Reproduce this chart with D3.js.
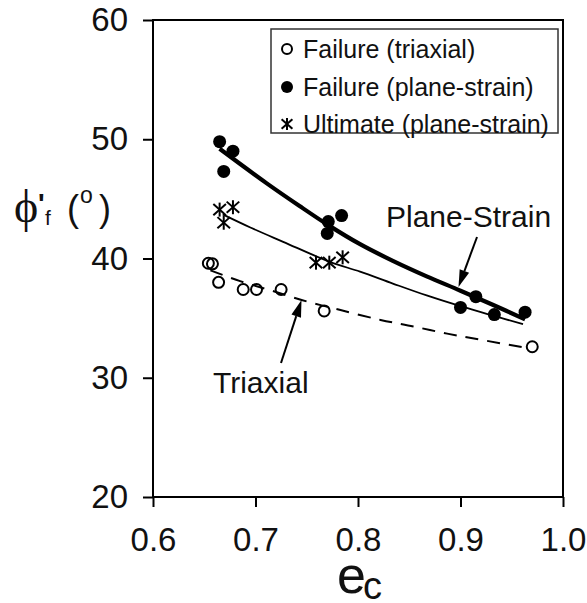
<!DOCTYPE html>
<html>
<head>
<meta charset="utf-8">
<script src="https://cdn.jsdelivr.net/npm/d3@7"></script>
<style>
  body { margin: 0; background: #fff; }
  svg { display: block; font-family: "Liberation Sans", Arial, sans-serif; }
</style>
</head>
<body>
<svg id="chart" width="587" height="603"></svg>
<script>
// failure points, triaxial tests (open circles)
var triaxE   = [0.654, 0.658, 0.664, 0.688, 0.701, 0.725, 0.767, 0.970];
var triaxPhi = [39.6, 39.55, 38.0, 37.4, 37.4, 37.4, 35.6, 32.6];

// failure points, plane-strain tests (filled dots)
var planeE   = [0.665, 0.678, 0.669, 0.784, 0.771, 0.770, 0.915, 0.900, 0.933, 0.963];
var planePhi = [49.8, 49.0, 47.3, 43.6, 43.1, 42.1, 36.8, 35.9, 35.3, 35.5];

// ultimate points, plane-strain (asterisks)
var ultE   = [0.665, 0.678, 0.669, 0.759, 0.772, 0.785];
var ultPhi = [44.1, 44.3, 43.0, 39.65, 39.65, 40.1];

// fitted curves
var fitPlaneE   = [0.665, 0.711, 0.743, 0.771, 0.802, 0.834, 0.867, 0.900, 0.932, 0.963];
var fitPlanePhi = [49.2, 46.3, 44.4, 42.8, 41.2, 39.8, 38.5, 37.3, 36.1, 34.9];
var fitUltE     = [0.668, 0.695, 0.727, 0.773, 0.802, 0.834, 0.867, 0.900, 0.932, 0.961];
var fitUltPhi   = [43.7, 42.6, 41.4, 39.7, 38.9, 37.9, 36.9, 36.0, 35.2, 34.5];
var fitTriaxE   = [0.656, 0.685, 0.714, 0.750, 0.782, 0.822, 0.854, 0.887, 0.919, 0.965];
var fitTriaxPhi = [39.0, 38.1, 37.35, 36.4, 35.7, 34.85, 34.3, 33.7, 33.2, 32.5];

var xTicks = [0.6, 0.7, 0.8, 0.9, 1.0];
var yTicks = [20, 30, 40, 50, 60];
var legendLabels = ["Failure (triaxial)", "Failure (plane-strain)", "Ultimate (plane-strain)"];

var svg = d3.select("#chart");

var x = d3.scaleLinear().domain([0.6, 1.0]).range([153, 563]);
var y = d3.scaleLinear().domain([20, 60]).range([497, 20]);

function pts(xs, ys) {
  return xs.map(function(d, i) { return [d, ys[i]]; });
}

// axes
var yAxis = svg.append("g")
    .attr("transform", "translate(153,0)")
    .call(d3.axisLeft(y).tickValues(yTicks).tickSize(10).tickPadding(15).tickFormat(d3.format("d")));
var xAxis = svg.append("g")
    .attr("transform", "translate(0,497)")
    .call(d3.axisBottom(x).tickValues(xTicks).tickSize(10).tickPadding(21).tickFormat(d3.format(".1f")));

[xAxis, yAxis].forEach(function(a) {
  a.select(".domain").remove();
  a.selectAll("line").attr("stroke", "#000").attr("stroke-width", 2);
  a.selectAll("text").attr("font-size", 33).attr("fill", "#111")
    .attr("font-family", "Liberation Sans, Arial, sans-serif");
});

// frame
svg.append("rect")
    .attr("x", x(0.6)).attr("y", y(60))
    .attr("width", x(1.0) - x(0.6)).attr("height", y(20) - y(60))
    .attr("fill", "none").attr("stroke", "#000").attr("stroke-width", 2);

// fitted lines
var line = d3.line()
    .x(function(d) { return x(d[0]); })
    .y(function(d) { return y(d[1]); })
    .curve(d3.curveCatmullRom);

svg.append("path").attr("d", line(pts(fitTriaxE, fitTriaxPhi)))
    .attr("fill", "none").attr("stroke", "#000").attr("stroke-width", 2)
    .attr("stroke-dasharray", "13,9");
svg.append("path").attr("d", line(pts(fitUltE, fitUltPhi)))
    .attr("fill", "none").attr("stroke", "#000").attr("stroke-width", 1.8);
svg.append("path").attr("d", line(pts(fitPlaneE, fitPlanePhi)))
    .attr("fill", "none").attr("stroke", "#000").attr("stroke-width", 4.2);

// markers
function star(g, s) {
  g.append("line").attr("x1", 0).attr("y1", -s).attr("x2", 0).attr("y2", s);
  g.append("line").attr("x1", -s * 0.9).attr("y1", -s * 0.8).attr("x2", s * 0.9).attr("y2", s * 0.8);
  g.append("line").attr("x1", -s * 0.9).attr("y1", s * 0.8).attr("x2", s * 0.9).attr("y2", -s * 0.8);
  g.selectAll("line").attr("stroke", "#000").attr("stroke-width", 2);
}

svg.append("g").selectAll("circle")
    .data(pts(triaxE, triaxPhi))
  .enter().append("circle")
    .attr("cx", function(d) { return x(d[0]); })
    .attr("cy", function(d) { return y(d[1]); })
    .attr("r", 5.5)
    .attr("fill", "none").attr("stroke", "#000").attr("stroke-width", 2);

svg.append("g").selectAll("circle")
    .data(pts(planeE, planePhi))
  .enter().append("circle")
    .attr("cx", function(d) { return x(d[0]); })
    .attr("cy", function(d) { return y(d[1]); })
    .attr("r", 6.5)
    .attr("fill", "#000");

svg.append("g").selectAll("g")
    .data(pts(ultE, ultPhi))
  .enter().append("g")
    .attr("transform", function(d) { return "translate(" + x(d[0]) + "," + y(d[1]) + ")"; })
    .each(function() { star(d3.select(this), 7); });

// legend
var legend = svg.append("g");
legend.append("rect")
    .attr("x", 271).attr("y", 29).attr("width", 287).attr("height", 104)
    .attr("fill", "#fff").attr("stroke", "#333").attr("stroke-width", 1.5);
var rowY = [49, 87, 124];
legendLabels.forEach(function(t, i) {
  legend.append("text")
      .attr("x", 303).attr("y", rowY[i] + 9)
      .attr("font-size", 25).attr("fill", "#111")
      .text(t);
});
legend.append("circle").attr("cx", 287).attr("cy", rowY[0]).attr("r", 5)
    .attr("fill", "none").attr("stroke", "#000").attr("stroke-width", 2);
legend.append("circle").attr("cx", 287).attr("cy", rowY[1]).attr("r", 6).attr("fill", "#000");
star(legend.append("g").attr("transform", "translate(287," + rowY[2] + ")"), 6);

// annotations with arrows
function arrow(x1, y1, x2, y2) {
  var a = Math.atan2(y2 - y1, x2 - x1), len = 17, w = 5;
  var bx = x2 - len * Math.cos(a), by = y2 - len * Math.sin(a);
  svg.append("line").attr("x1", x1).attr("y1", y1).attr("x2", bx).attr("y2", by)
      .attr("stroke", "#000").attr("stroke-width", 2);
  svg.append("path")
      .attr("d", "M" + x2 + "," + y2 +
        "L" + (bx + w * Math.sin(a)) + "," + (by - w * Math.cos(a)) +
        "L" + (bx - w * Math.sin(a)) + "," + (by + w * Math.cos(a)) + "Z")
      .attr("fill", "#000");
}

svg.append("text").attr("x", 386).attr("y", 227).attr("font-size", 30).attr("fill", "#111")
    .text("Plane-Strain");
arrow(477, 237, 458.5, 287);

svg.append("text").attr("x", 213).attr("y", 393).attr("font-size", 30).attr("fill", "#111")
    .text("Triaxial");
arrow(281, 363, 301.5, 300);

// axis titles
var yt = svg.append("g").attr("fill", "#111");
yt.append("text").attr("x", 14).attr("y", 222).attr("font-size", 46)
    .attr("font-family", "Liberation Serif, DejaVu Serif, serif").text("\u03D5");
yt.append("text").attr("x", 38).attr("y", 213).attr("font-size", 28).attr("font-weight", "bold").text("'");
yt.append("text").attr("x", 45).attr("y", 225).attr("font-size", 21).text("f");
yt.append("text").attr("x", 67).attr("y", 221).attr("font-size", 36).text("(");
yt.append("text").attr("x", 80).attr("y", 203).attr("font-size", 23).text("o");
yt.append("text").attr("x", 99).attr("y", 221).attr("font-size", 36).text(")");

var xt = svg.append("g").attr("fill", "#111");
xt.append("text").attr("x", 337).attr("y", 593).attr("font-size", 52).text("e");
xt.append("text").attr("x", 363).attr("y", 599).attr("font-size", 38).text("c");
</script>
</body>
</html>
